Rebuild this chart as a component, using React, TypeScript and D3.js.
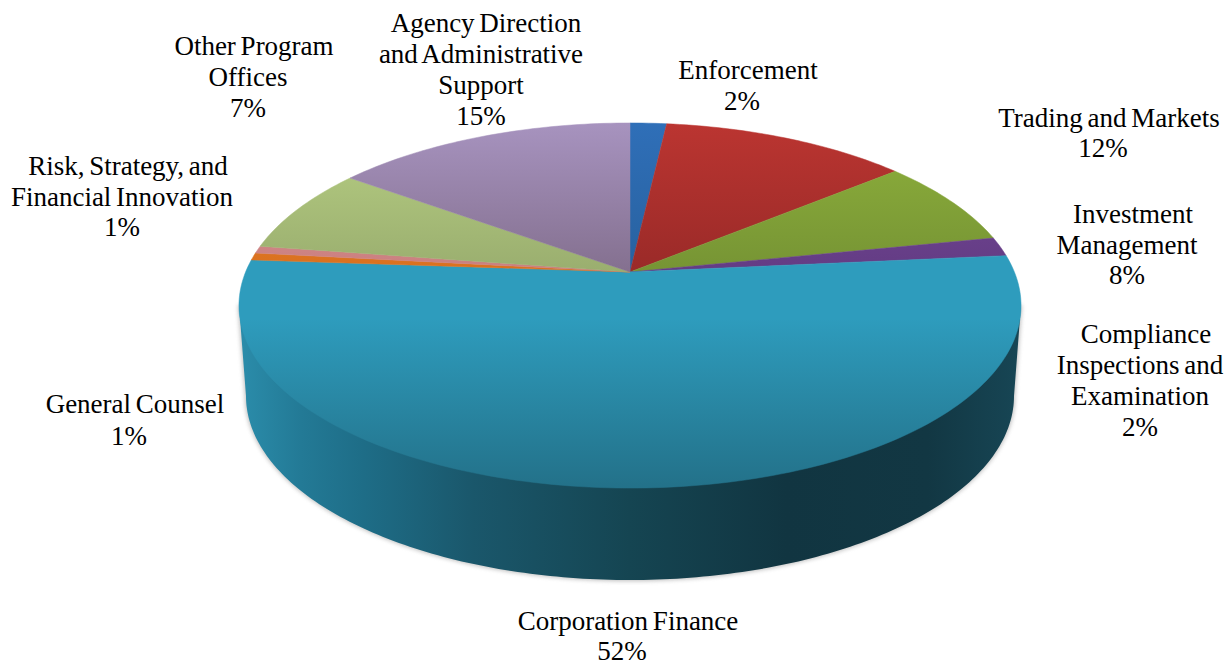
import React from "react";
import * as d3 from "d3";

const categories = ["Enforcement","Trading and Markets","Investment Management","Compliance Inspections and Examination","Corporation Finance","General Counsel","Risk, Strategy, and Financial Innovation","Other Program Offices","Agency Direction and Administrative Support"];
const shares = [1.8, 12.2, 7.8, 1.7, 52.6, 0.65, 0.65, 7.65, 14.95];
const lightColors = ["#2f6fb8","#bb3531","#8fb13c","#7a4a9c","#2e9cbd","#f08a2c","#e59a9a","#b8d084","#a793bf"];
const darkColors = ["#28619f","#9a2a28","#769434","#633c84","#237189","#d9701f","#c97f7f","#9aae6f","#84708f"];
const labelLines = [
  ["Enforcement","2%"],
  ["Trading and Markets","12%"],
  ["Investment","Management","8%"],
  ["Compliance","Inspections and","Examination","2%"],
  ["Corporation Finance","52%"],
  ["General Counsel","1%"],
  ["Risk, Strategy, and","Financial Innovation","1%"],
  ["Other Program","Offices","7%"],
  ["Agency Direction","and Administrative","Support","15%"],
];
const labelCenters = [[742,71],[1103,119],[1127,215],[1140,335],[622,622],[129,405],[122,167],[248,47],[481,24]];
const firstLineShift = [6,6,6,6,6,6,6,6,5];
const lineSteps = [31,30,30.5,31,30,32,30.5,31,31];

const cx = 630, cy = 272, A = 176.4, B = 384.4, p = 0.1836;
const project = (ang: number, r = 1): [number, number] => {
  const X = r * Math.sin(ang), Y = r * Math.cos(ang), s = 1 + p * Y;
  return [cx + (B * X) / s, cy - (A * Y) / s];
};
const line = d3.line();
const arcs = d3.pie<number>().sort(null).value((d) => d)(shares);

const wedge = (a0: number, a1: number) => {
  const n = Math.max(2, Math.ceil((a1 - a0) / 0.02));
  const pts = d3.range(n + 1).map((i) => project(a0 + ((a1 - a0) * i) / n));
  return line([[cx, cy], ...pts]) + "Z";
};

const bcx = 630, bcy = 396, brx = 384, bry = 184;
const sideOutline = (grow = 0) => {
  const pts: [number, number][] = d3.range(0, 181).map((d) => {
    const t = (d * Math.PI) / 180;
    return [bcx + (brx + grow) * Math.cos(t), bcy + (bry + grow) * Math.sin(t)];
  });
  return line([[1021 + grow, 305], ...pts, [239 - grow, 305]]) + "Z";
};
const sideStops: [number, string][] = [[0,"#2b8dab"],[0.08,"#237a96"],[0.16,"#1e6d87"],[0.3,"#1a576b"],[0.5,"#154552"],[0.7,"#113541"],[0.88,"#123743"],[1,"#174655"]];

export default function App() {
  return (
    <svg width={1228} height={663} style={{ position: "absolute", left: 0, top: 0, background: "#fff" }}>
      <defs>
        <linearGradient id="side" gradientUnits="userSpaceOnUse" x1={238} x2={1021} y1={0} y2={0}>
          {sideStops.map(([o, c]) => <stop key={o} offset={o} stopColor={c} />)}
        </linearGradient>
        {arcs.map((a, i) => {
          const big = i === 4;
          return (
            <linearGradient key={i} id={`g${i}`} gradientUnits="userSpaceOnUse" x1={0} x2={0} y1={big ? 262 : 123} y2={big ? 488 : 272}>
              <stop offset={0} stopColor={lightColors[i]} />
              <stop offset={big ? 0.25 : 0} stopColor={lightColors[i]} />
              <stop offset={1} stopColor={darkColors[i]} />
            </linearGradient>
          );
        })}
        <filter id="blur" x="-5%" y="-5%" width="110%" height="110%"><feGaussianBlur stdDeviation={2.2} /></filter>
      </defs>
      <path d={sideOutline(1)} fill="#888" opacity={0.55} filter="url(#blur)" />
      <path d={sideOutline()} fill="url(#side)" />
      {arcs.map((a, i) => (
        <path key={i} d={wedge(a.startAngle, a.endAngle)} fill={`url(#g${i})`} stroke={`url(#g${i})`} strokeWidth={0.5} />
      ))}
      <g fontFamily="'Liberation Serif'" fontSize={27} fill="#000" textAnchor="middle" wordSpacing={-2}>
        {labelLines.map((ls, i) => (
          <text key={i}>
            {ls.map((t, j) => (
              <tspan key={j} x={labelCenters[i][0] + (j === 0 ? firstLineShift[i] : 0)} y={labelCenters[i][1] + 8 + j * lineSteps[i]}>{t}</tspan>
            ))}
          </text>
        ))}
      </g>
    </svg>
  );
}
